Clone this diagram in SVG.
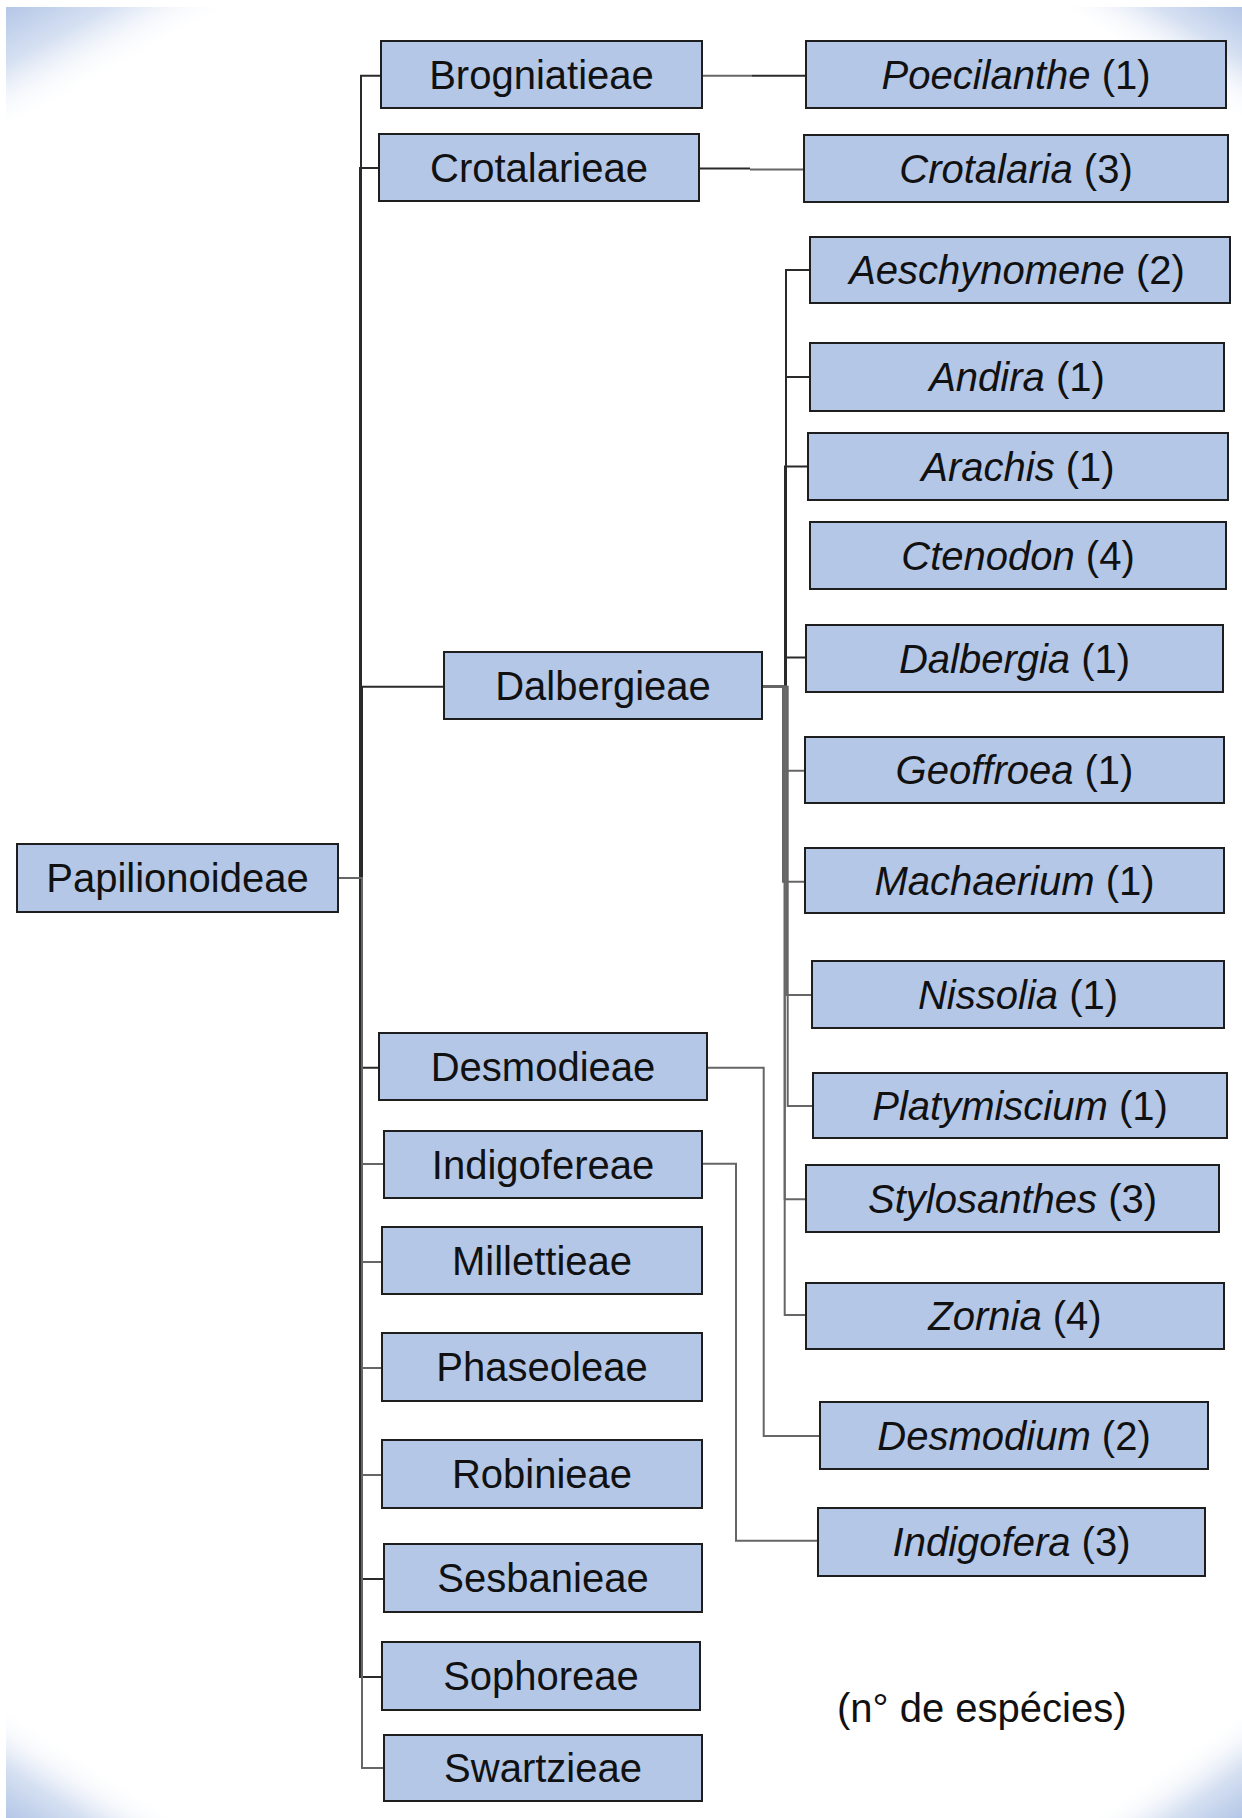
<svg xmlns="http://www.w3.org/2000/svg" width="1242" height="1818" viewBox="0 0 1242 1818">
  <style>
    .box { fill: #b4c7e7; stroke: #1e1e1e; stroke-width: 2; }
    .lbl { font-family: "Liberation Sans", Arial, sans-serif; font-size: 40px; fill: #111; text-anchor: middle; }
    .it { font-style: italic; }
    .conn { fill: none; stroke: #2a2a2a; stroke-width: 2; }
    .conn.soft { stroke: #666; }
    .note { font-family: "Liberation Sans", Arial, sans-serif; font-size: 40px; fill: #111; }
  </style>
  <defs>
    <linearGradient id="gTL" gradientUnits="userSpaceOnUse" x1="6" y1="7" x2="60" y2="105">
      <stop offset="0" stop-color="#b4c7e7"/>
      <stop offset="0.45" stop-color="#b4c7e7" stop-opacity="0.55"/>
      <stop offset="1" stop-color="#ffffff" stop-opacity="0"/>
    </linearGradient>
    <linearGradient id="gTR" gradientUnits="userSpaceOnUse" x1="1242" y1="7" x2="1190" y2="92">
      <stop offset="0" stop-color="#b4c7e7"/>
      <stop offset="0.45" stop-color="#b4c7e7" stop-opacity="0.55"/>
      <stop offset="1" stop-color="#ffffff" stop-opacity="0"/>
    </linearGradient>
    <linearGradient id="gBL" gradientUnits="userSpaceOnUse" x1="6" y1="1818" x2="58" y2="1738">
      <stop offset="0" stop-color="#b4c7e7"/>
      <stop offset="0.45" stop-color="#b4c7e7" stop-opacity="0.55"/>
      <stop offset="1" stop-color="#ffffff" stop-opacity="0"/>
    </linearGradient>
    <linearGradient id="gBR" gradientUnits="userSpaceOnUse" x1="1242" y1="1818" x2="1190" y2="1745">
      <stop offset="0" stop-color="#b4c7e7"/>
      <stop offset="0.45" stop-color="#b4c7e7" stop-opacity="0.55"/>
      <stop offset="1" stop-color="#ffffff" stop-opacity="0"/>
    </linearGradient>
  </defs>

  <!-- slide background with shaded corners -->
  <rect x="0" y="0" width="1242" height="1818" fill="#ffffff"/>
  <g id="background">
    <polygon points="6,7 230,7 6,132" fill="url(#gTL)"/>
    <polygon points="1242,7 1068,7 1242,118" fill="url(#gTR)"/>
    <polygon points="6,1818 6,1705 180,1818" fill="url(#gBL)"/>
    <polygon points="1242,1818 1242,1708 1090,1818" fill="url(#gBR)"/>
  </g>

  <!-- connectors -->
  <g id="connectors">
    <!-- Papilionoideae to tribes -->
    <path class="conn" d="M338,878 H361 V75.7 H381"/>
    <path class="conn" d="M338,878 H360 V168 H379"/>
    <path class="conn" d="M338,878 H362 V686.7 H444"/>
    <path class="conn" d="M338,878 H360 V1067.7 H379"/>
    <path class="conn soft" d="M338,878 H361 V1164 H384"/>
    <path class="conn soft" d="M338,878 H361 V1262 H382"/>
    <path class="conn soft" d="M338,878 H361 V1368 H382"/>
    <path class="conn soft" d="M338,878 H361 V1475 H382"/>
    <path class="conn" d="M338,878 H360 V1579 H384"/>
    <path class="conn" d="M338,878 H360 V1677 H382"/>
    <path class="conn soft" d="M338,878 H362 V1768 H384"/>

    <!-- single-genus tribes -->
    <path class="conn soft" d="M702,75.7 H752"/>
    <path class="conn" d="M752,75.7 H806"/>
    <path class="conn" d="M699,168.5 H750"/>
    <path class="conn soft" d="M750,169.5 H804"/>

    <!-- Dalbergieae to genera -->
    <path class="conn" d="M762,686.7 H786 V270 H810"/>
    <path class="conn" d="M762,686.7 H786 V377 H810"/>
    <path class="conn" d="M762,686.7 H785 V466.5 H808"/>
    <path class="conn" d="M762,686.7 H785 V657.5 H806"/>
    <path class="conn soft" d="M762,686.7 H783 V770.7 H805"/>
    <path class="conn soft" d="M762,686.7 H783 V881.7 H805"/>
    <path class="conn soft" d="M762,686.7 H786.5 V995 H812"/>
    <path class="conn soft" d="M762,686.7 H787.7 V1106 H813"/>
    <path class="conn soft" d="M762,686.7 H784.7 V1199.3 H806"/>
    <path class="conn soft" d="M762,686.7 H784.7 V1315 H806"/>

    <!-- Desmodieae and Indigofereae -->
    <path class="conn soft" d="M707,1067.7 H763.7 V1436 H820"/>
    <path class="conn soft" d="M702,1163.7 H736 V1540.7 H818"/>
  </g>

  <!-- root -->
  <g id="papilionoideae">
    <rect class="box" x="17" y="844" width="321" height="68"/>
    <text class="lbl" x="177.5" y="892">Papilionoideae</text>
  </g>

  <!-- tribes -->
  <g id="brogniatieae">
    <rect class="box" x="381" y="41" width="321" height="67"/>
    <text class="lbl" x="541.5" y="88.5">Brogniatieae</text>
  </g>
  <g id="crotalarieae">
    <rect class="box" x="379" y="134" width="320" height="67"/>
    <text class="lbl" x="539" y="181.5">Crotalarieae</text>
  </g>
  <g id="dalbergieae">
    <rect class="box" x="444" y="652" width="318" height="67"/>
    <text class="lbl" x="603" y="699.5">Dalbergieae</text>
  </g>
  <g id="desmodieae">
    <rect class="box" x="379" y="1033" width="328" height="67"/>
    <text class="lbl" x="543" y="1080.5">Desmodieae</text>
  </g>
  <g id="indigofereae">
    <rect class="box" x="384" y="1131" width="318" height="67"/>
    <text class="lbl" x="543" y="1178.5">Indigofereae</text>
  </g>
  <g id="millettieae">
    <rect class="box" x="382" y="1227" width="320" height="67"/>
    <text class="lbl" x="542" y="1274.5">Millettieae</text>
  </g>
  <g id="phaseoleae">
    <rect class="box" x="382" y="1333" width="320" height="68"/>
    <text class="lbl" x="542" y="1381">Phaseoleae</text>
  </g>
  <g id="robinieae">
    <rect class="box" x="382" y="1440" width="320" height="68"/>
    <text class="lbl" x="542" y="1488">Robinieae</text>
  </g>
  <g id="sesbanieae">
    <rect class="box" x="384" y="1544" width="318" height="68"/>
    <text class="lbl" x="543" y="1592">Sesbanieae</text>
  </g>
  <g id="sophoreae">
    <rect class="box" x="382" y="1642" width="318" height="68"/>
    <text class="lbl" x="541" y="1690">Sophoreae</text>
  </g>
  <g id="swartzieae">
    <rect class="box" x="384" y="1735" width="318" height="66"/>
    <text class="lbl" x="543" y="1782">Swartzieae</text>
  </g>

  <!-- genera -->
  <g id="poecilanthe">
    <rect class="box" x="806" y="41" width="420" height="67"/>
    <text class="lbl" x="1016" y="88.5"><tspan class="it">Poecilanthe</tspan> (1)</text>
  </g>
  <g id="crotalaria">
    <rect class="box" x="804" y="135" width="424" height="67"/>
    <text class="lbl" x="1016" y="182.5"><tspan class="it">Crotalaria</tspan> (3)</text>
  </g>
  <g id="aeschynomene">
    <rect class="box" x="810" y="237" width="420" height="66"/>
    <text class="lbl" x="1017" y="284"><tspan class="it">Aeschynomene</tspan> (2)</text>
  </g>
  <g id="andira">
    <rect class="box" x="810" y="343" width="414" height="68"/>
    <text class="lbl" x="1017" y="391"><tspan class="it">Andira</tspan> (1)</text>
  </g>
  <g id="arachis">
    <rect class="box" x="808" y="433" width="420" height="67"/>
    <text class="lbl" x="1018" y="480.5"><tspan class="it">Arachis</tspan> (1)</text>
  </g>
  <g id="ctenodon">
    <rect class="box" x="810" y="522" width="416" height="67"/>
    <text class="lbl" x="1018" y="569.5"><tspan class="it">Ctenodon</tspan> (4)</text>
  </g>
  <g id="dalbergia">
    <rect class="box" x="806" y="625" width="417" height="67"/>
    <text class="lbl" x="1014.5" y="672.5"><tspan class="it">Dalbergia</tspan> (1)</text>
  </g>
  <g id="geoffroea">
    <rect class="box" x="805" y="737" width="419" height="66"/>
    <text class="lbl" x="1014.5" y="784"><tspan class="it">Geoffroea</tspan> (1)</text>
  </g>
  <g id="machaerium">
    <rect class="box" x="805" y="848" width="419" height="65"/>
    <text class="lbl" x="1014.5" y="894.5"><tspan class="it">Machaerium</tspan> (1)</text>
  </g>
  <g id="nissolia">
    <rect class="box" x="812" y="961" width="412" height="67"/>
    <text class="lbl" x="1018" y="1008.5"><tspan class="it">Nissolia</tspan> (1)</text>
  </g>
  <g id="platymiscium">
    <rect class="box" x="813" y="1073" width="414" height="65"/>
    <text class="lbl" x="1020" y="1119.5"><tspan class="it">Platymiscium</tspan> (1)</text>
  </g>
  <g id="stylosanthes">
    <rect class="box" x="806" y="1165" width="413" height="67"/>
    <text class="lbl" x="1012.5" y="1212.5"><tspan class="it">Stylosanthes</tspan> (3)</text>
  </g>
  <g id="zornia">
    <rect class="box" x="806" y="1283" width="418" height="66"/>
    <text class="lbl" x="1015" y="1330"><tspan class="it">Zornia</tspan> (4)</text>
  </g>
  <g id="desmodium">
    <rect class="box" x="820" y="1402" width="388" height="67"/>
    <text class="lbl" x="1014" y="1449.5"><tspan class="it">Desmodium</tspan> (2)</text>
  </g>
  <g id="indigofera">
    <rect class="box" x="818" y="1508" width="387" height="68"/>
    <text class="lbl" x="1011.5" y="1556"><tspan class="it">Indigofera</tspan> (3)</text>
  </g>

  <!-- legend -->
  <text class="note" x="837" y="1721.5">(n° de espécies)</text>
</svg>
